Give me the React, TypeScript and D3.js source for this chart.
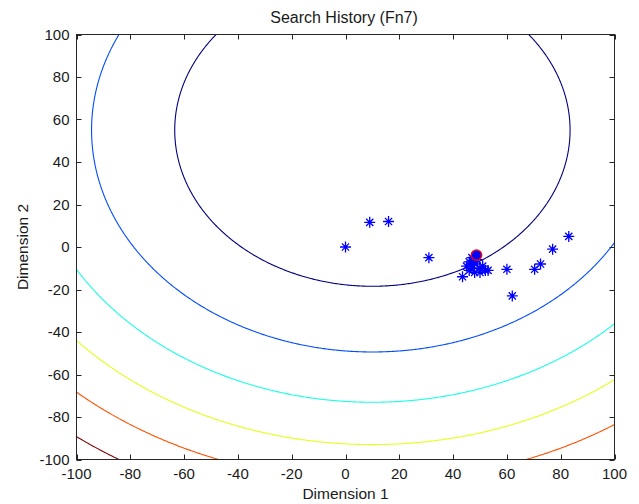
import React from "react";
import * as d3 from "d3";

// Axis ticks
const xTicks = [-100, -80, -60, -40, -20, 0, 20, 40, 60, 80, 100];
const yTicks = [-100, -80, -60, -40, -20, 0, 20, 40, 60, 80, 100];

// Objective surface: squared distance from the optimum region centre
const fieldCenterX = 10;
const fieldCenterY = 55;
const contourLevels = [5400, 10900, 16400, 21900, 27300, 32900];

// Evaluated search points
const starX = [0, 9, 16, 31, 43.5, 45, 46, 47, 47, 48, 48, 49, 50, 50, 51, 52, 53, 46, 47.5, 60, 62, 70.3, 72.5, 77, 83];
const starY = [0, 11.6, 12, -5, -14, -9, -7, -5, -10, -8, -12, -6, -10, -12, -9, -11, -11, -11, -7, -10.5, -23, -10.5, -8, -1, 5];

// Best point found
const bestX = 48.7;
const bestY = -3.8;

const W = 639;
const H = 504;
const left = 76.5;
const right = 614.5;
const top = 34.5;
const bottom = 459.5;
const FONT = "'Liberation Sans', Arial, Helvetica, sans-serif";

// MATLAB-style jet colormap
function jet(t: number): string {
  const r = Math.max(0, Math.min(1, Math.min(4 * t - 1.5, -4 * t + 4.5)));
  const g = Math.max(0, Math.min(1, Math.min(4 * t - 0.5, -4 * t + 3.5)));
  const b = Math.max(0, Math.min(1, Math.min(4 * t + 0.5, -4 * t + 2.5)));
  return d3.rgb(r * 255, g * 255, b * 255).formatHex();
}

export default function App() {
  const x = d3.scaleLinear().domain([-100, 100]).range([left, right]);
  const y = d3.scaleLinear().domain([-100, 100]).range([bottom, top]);

  // Sample the field on a grid and trace iso-lines
  const step = 0.5;
  const n = Math.round(200 / step) + 1;
  const values = new Array(n * n);
  for (let j = 0; j < n; j++) {
    const gy = -100 + j * step;
    for (let i = 0; i < n; i++) {
      const gx = -100 + i * step;
      values[j * n + i] = (gx - fieldCenterX) ** 2 + (gy - fieldCenterY) ** 2;
    }
  }
  const contours = d3.contours().size([n, n]).thresholds(contourLevels)(values);
  const proj = d3.geoTransform({
    point(px: number, py: number) {
      // grid sample k sits at cell centre k + 0.5
      this.stream.point(x(-100 + (px - 0.5) * step), y(-100 + (py - 0.5) * step));
    },
  });
  const path = d3.geoPath(proj);

  const lo = contourLevels[0];
  const hi = contourLevels[contourLevels.length - 1];

  const starPath = (cx: number, cy: number) => {
    const a = 5.5;
    const b = 3.6;
    return `M${cx - a},${cy}L${cx + a},${cy}M${cx},${cy - a}L${cx},${cy + a}` +
      `M${cx - b},${cy - b}L${cx + b},${cy + b}M${cx - b},${cy + b}L${cx + b},${cy - b}`;
  };

  const tickLen = 5;
  const axisColor = "#262626";

  return (
    <svg width={W} height={H} style={{ position: "absolute", left: 0, top: 0, display: "block", background: "#fff" }}>
      <defs>
        <clipPath id="plotClip">
          <rect x={left} y={top} width={right - left} height={bottom - top} />
        </clipPath>
      </defs>
      <rect x={0} y={0} width={W} height={H} fill="#fff" />
      <g clipPath="url(#plotClip)">
        {contours.map((c, k) => (
          <path
            key={k}
            d={path(c as any) || ""}
            fill="none"
            stroke={jet((c.value - lo) / (hi - lo))}
            strokeWidth={1.1}
          />
        ))}
        {starX.map((sx, k) => (
          <path key={k} d={starPath(x(sx), y(starY[k]))} stroke="#0000ff" strokeWidth={1.3} fill="none" />
        ))}
        <circle cx={x(bestX)} cy={y(bestY)} r={5.2} fill="#0000ff" stroke="#ff0000" strokeWidth={1.4} />
      </g>

      {/* frame */}
      <rect x={left} y={top} width={right - left} height={bottom - top} fill="none" stroke={axisColor} strokeWidth={1} />

      {/* x ticks */}
      {xTicks.map((t) => (
        <g key={"x" + t}>
          <line x1={Math.round(x(t)) + 0.5} x2={Math.round(x(t)) + 0.5} y1={bottom} y2={bottom - tickLen} stroke={axisColor} />
          <line x1={Math.round(x(t)) + 0.5} x2={Math.round(x(t)) + 0.5} y1={top} y2={top + tickLen} stroke={axisColor} />
          <text x={x(t)} y={479} textAnchor="middle" fontFamily={FONT} fontSize={15} fill="#1a1a1a">
            {t}
          </text>
        </g>
      ))}

      {/* y ticks */}
      {yTicks.map((t) => (
        <g key={"y" + t}>
          <line x1={left} x2={left + tickLen} y1={Math.round(y(t)) + 0.5} y2={Math.round(y(t)) + 0.5} stroke={axisColor} />
          <line x1={right} x2={right - tickLen} y1={Math.round(y(t)) + 0.5} y2={Math.round(y(t)) + 0.5} stroke={axisColor} />
          <text x={69.5} y={y(t) + 5.4} textAnchor="end" fontFamily={FONT} fontSize={15} fill="#1a1a1a">
            {t}
          </text>
        </g>
      ))}

      <text x={344} y={23} textAnchor="middle" fontFamily={FONT} fontSize={16} fill="#1a1a1a">
        Search History (Fn7)
      </text>
      <text x={(left + right) / 2} y={499} textAnchor="middle" fontFamily={FONT} fontSize={15.5} fill="#1a1a1a">
        Dimension 1
      </text>
      <text
        transform={`translate(27.5,${(top + bottom) / 2}) rotate(-90)`}
        textAnchor="middle"
        fontFamily={FONT}
        fontSize={15.5}
        fill="#1a1a1a"
      >
        Dimension 2
      </text>
    </svg>
  );
}
